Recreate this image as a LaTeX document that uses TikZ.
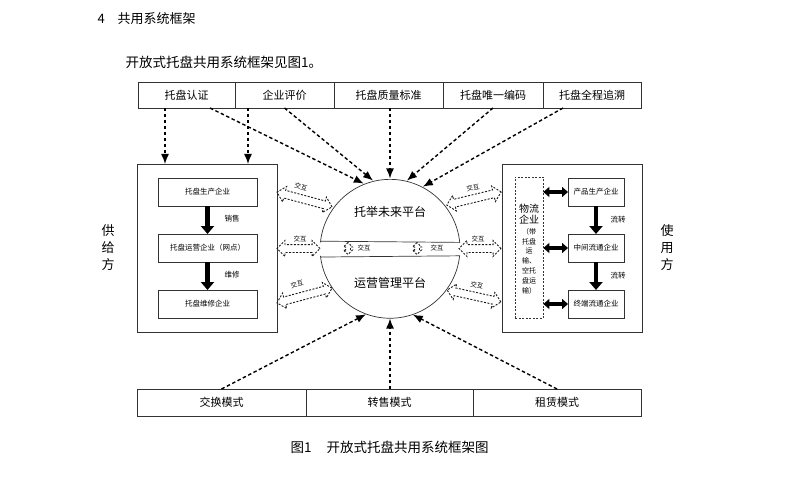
\documentclass[tikz,border=0pt]{standalone}
\usepackage{fontspec}
\setmainfont{Noto Sans CJK SC}
\usetikzlibrary{arrows.meta,shapes.arrows}

\tikzset{
  cell/.style={draw=black!80, line width=0.7pt, inner sep=0pt, outer sep=0pt,
    minimum height=26pt, font=\fontsize{11}{13}\selectfont},
  party/.style={draw=black!80, line width=0.7pt, inner sep=0pt, outer sep=0pt,
    minimum width=140pt, minimum height=168pt},
  firm/.style={draw=black!80, line width=0.7pt, inner sep=0pt, outer sep=0pt,
    minimum height=28pt, font=\fontsize{7.5}{9}\selectfont},
  darr/.style={line width=1.4pt, dash pattern=on 3.5pt off 2.5pt,
    -{Latex[length=10pt,width=8pt]}},
  barr/.style={line width=4.5pt, -{Triangle[length=8pt,width=13pt]}},
  bdarr/.style={line width=3.5pt, {Triangle[length=6pt,width=10pt]}-{Triangle[length=6pt,width=10pt]}},
  hollow/.style={double arrow, draw=black!90, line width=0.9pt,
    dash pattern=on 2pt off 1.5pt, inner xsep=0pt, inner ysep=3.5pt,
    double arrow head extend=4pt},
  tiny/.style={font=\fontsize{6.5}{7}\selectfont, inner sep=0pt},
  side/.style={align=center, font=\fontsize{13}{17}\selectfont}
}

\begin{document}
\begin{tikzpicture}[x=1pt,y=-1pt]
  \useasboundingbox[fill=white] (0,0) rectangle (792,481);
  % Heading and text
  \node[anchor=west, font=\fontsize{13}{15}\selectfont] (hd) at (94,19) {4\hspace{13pt}共用系统框架};
  \node[anchor=west, font=\fontsize{13.5}{15}\selectfont] (para) at (122,62) {开放式托盘共用系统框架见图1。};
  % Top bar
  \node[cell, minimum width=97pt]  (t1) at (186.5,95) {托盘认证};
  \node[cell, minimum width=99pt]  (t2) at (284.5,95) {企业评价};
  \node[cell, minimum width=109pt] (t3) at (388.5,95) {托盘质量标准};
  \node[cell, minimum width=100pt] (t4) at (493,95)   {托盘唯一编码};
  \node[cell, minimum width=98pt]  (t5) at (592,95)   {托盘全程追溯};
  % Bottom bar
  \node[cell, minimum height=27pt, minimum width=169pt] (b1) at (221.5,402.5) {交换模式};
  \node[cell, minimum height=27pt, minimum width=167pt] (b2) at (389.5,402.5) {转售模式};
  \node[cell, minimum height=27pt, minimum width=168pt] (b3) at (557,402.5)   {租赁模式};
  % Supply side
  \node[party] (sup) at (207,248) {};
  \node[firm, minimum width=99pt] (lb1) at (207.5,192) {托盘生产企业};
  \node[firm, minimum width=99pt] (lb2) at (207.5,248) {托盘运营企业（网点）};
  \node[firm, minimum width=99pt] (lb3) at (207.5,304) {托盘维修企业};
  \draw[barr] (lb1) -- (lb2);
  \draw[barr] (lb2) -- (lb3);
  \node[firm, draw=none] (s1) at (232,219) {销售};
  \node[firm, draw=none] (s2) at (232,275) {维修};
  \node[side] (supl) at (108,248) {供\\给\\方};
  % Use side
  \node[party] (use) at (572,248) {};
  \node[draw=black!80, line width=0.7pt, dash pattern=on 2pt off 1.5pt, inner sep=0pt,
    minimum width=28pt, minimum height=141pt] (lg) at (529,247.5) {};
  \node[align=center, inner sep=0pt, font=\fontsize{7}{9.8}\selectfont] (lgt) at (529,249)
    {{\fontsize{10}{12}\selectfont 物流}\\[1pt]{\fontsize{10}{12}\selectfont 企业}\\[1pt]（带\\托盘\\运\\输、\\空托\\盘运\\输）};
  \node[firm, minimum width=56pt] (rb1) at (596,192) {产品生产企业};
  \node[firm, minimum width=56pt] (rb2) at (596,248) {中间流通企业};
  \node[firm, minimum width=56pt] (rb3) at (596,304) {终端流通企业};
  \draw[barr] (rb1) -- (rb2);
  \draw[barr] (rb2) -- (rb3);
  \node[firm, draw=none] (f1) at (618,220) {流转};
  \node[firm, draw=none] (f2) at (618,276) {流转};
  \draw[bdarr] (lg.east |- rb1.west) -- (rb1.west);
  \draw[bdarr] (lg.east |- rb2.west) -- (rb2.west);
  \draw[bdarr] (lg.east |- rb3.west) -- (rb3.west);
  \node[side] (usel) at (667,248) {使\\用\\方};
  % Platform circle
  \node[circle, minimum size=140pt, inner sep=0pt, outer sep=0pt] (plat) at (390,248.5) {};
  \draw[black!80, line width=0.7pt] (plat.174.3) -- (plat.5.7)
    arc[start angle=5.7, end angle=174.3, radius=70pt];
  \draw[black!80, line width=0.7pt] (plat.-173.8) -- (plat.-6.2)
    arc[start angle=-6.2, end angle=-173.8, radius=70pt];
  \node[font=\fontsize{12}{14}\selectfont] (up) at (390,212) {托举未来平台};
  \node[font=\fontsize{12}{14}\selectfont] (dn) at (390,283) {运营管理平台};
  \node[hollow, rotate=90, minimum height=12pt, inner ysep=2pt, double arrow head extend=2pt] (ib1) at (348,248.5) {};
  \node[hollow, rotate=90, minimum height=12pt, inner ysep=2pt, double arrow head extend=2pt] (ib2) at (417,248.5) {};
  \node[tiny] (ibl1) at (364,248.5) {交互};
  \node[tiny] (ibl2) at (437,248.5) {交互};
  % Standards into the platform
  \draw[darr] ([xshift=-21.5pt]t1.south) -- ([xshift=-21.5pt]t1.south |- sup.north);
  \draw[darr] ([xshift=-36.5pt]t2.south) -- ([xshift=-36.5pt]t2.south |- sup.north);
  \draw[darr] ([xshift=23.5pt]t1.south) -- (plat.112);
  \draw[darr] (t2.south) -- (plat.104);
  \draw[darr] (t3.south -| plat.north) -- (plat.north);
  \draw[darr] (t4.south) -- (plat.76);
  \draw[darr] ([xshift=-29pt]t5.south) -- (plat.62);
  % Modes into the platform
  \draw[darr] (b1.north) -- (plat.250);
  \draw[darr] (b2.north -| plat.south) -- (plat.south);
  \draw[darr] (b3.north) -- (plat.289);
  % Interaction arrows
  \node[hollow, minimum height=57pt, rotate=-15] (ia1) at (304.5,199.5) {};
  \node[hollow, minimum height=43pt] (ia2) at (298.5,248.5) {};
  \node[hollow, minimum height=57pt, rotate=15] (ia3) at (304.5,295.5) {};
  \node[hollow, minimum height=56pt, rotate=13.5] (ia4) at (474,198.5) {};
  \node[hollow, minimum height=42pt] (ia5) at (480,248.5) {};
  \node[hollow, minimum height=55pt, rotate=-12.5] (ia6) at (474,296) {};
  \node[tiny, rotate=-15] (il1) at (301,187) {交互};
  \node[tiny] (il2) at (300,239) {交互};
  \node[tiny, rotate=15] (il3) at (297,284) {交互};
  \node[tiny, rotate=13] (il4) at (473,188) {交互};
  \node[tiny] (il5) at (478,239) {交互};
  \node[tiny, rotate=-12] (il6) at (477,285) {交互};
  % Caption
  \node[anchor=west, font=\fontsize{13.5}{15}\selectfont] (cap) at (287,447) {图1\hspace{15pt}开放式托盘共用系统框架图};
\end{tikzpicture}
\end{document}
